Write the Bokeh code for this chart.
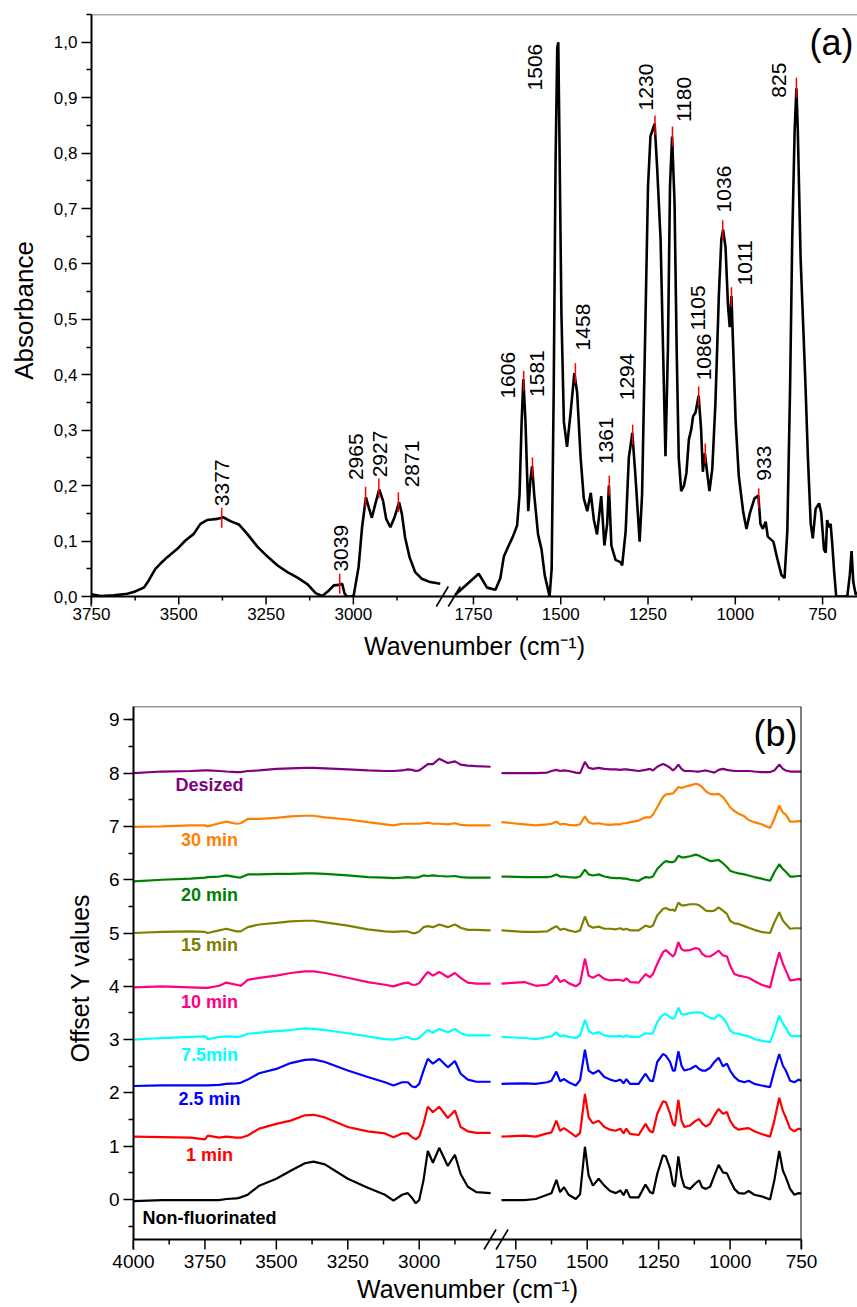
import numpy as np
from bokeh.plotting import figure
from bokeh.models import (Range1d, FixedTicker, CustomJSTickFormatter, Label, Span,
                          ColumnDataSource, BoxAnnotation)
from bokeh.embed import file_html
from bokeh.resources import INLINE
from bokeh.core.properties import value

FONT = "Liberation Sans"

# ---------------- Panel (a) data: (wavenumber, absorbance) ----------------
a_left = [(3750, 0.004), (3724, 0.001), (3686, 0.002), (3648, 0.005), (3629, 0.008), (3600, 0.016),
          (3586, 0.029), (3567, 0.05), (3553, 0.059), (3533, 0.071), (3504, 0.086), (3481, 0.101),
          (3457, 0.113), (3438, 0.131), (3419, 0.138), (3390, 0.14), (3373, 0.143), (3352, 0.136),
          (3328, 0.13), (3304, 0.113), (3275, 0.09), (3246, 0.072), (3217, 0.056), (3189, 0.044),
          (3160, 0.034), (3131, 0.022), (3108, 0.006), (3089, 0.001), (3070, 0.011), (3056, 0.02),
          (3041, 0.021), (3032, 0.023), (3025, 0.005), (3018, 0.0), (3004, 0.0), (2999, 0.002),
          (2985, 0.053), (2975, 0.125), (2964, 0.179), (2956, 0.161), (2947, 0.142), (2937, 0.167),
          (2926, 0.193), (2915, 0.173), (2906, 0.14), (2894, 0.125), (2882, 0.143), (2869, 0.17),
          (2861, 0.149), (2852, 0.107), (2839, 0.071), (2823, 0.044), (2804, 0.032), (2780, 0.026),
          (2751, 0.023)]
a_right = [(1802, 0.003), (1735, 0.041), (1711, 0.016), (1687, 0.012), (1673, 0.033), (1663, 0.072),
           (1649, 0.092), (1637, 0.108), (1625, 0.128), (1618, 0.184), (1612, 0.315), (1607, 0.392),
           (1601, 0.315), (1593, 0.154), (1587, 0.21), (1582, 0.235), (1576, 0.184), (1565, 0.112),
           (1555, 0.085), (1546, 0.039), (1532, 0.0), (1526, 0.05), (1520, 0.38), (1515, 0.775),
           (1510, 0.99), (1507, 1.0), (1504, 0.84), (1498, 0.51), (1491, 0.315), (1482, 0.27),
           (1472, 0.33), (1461, 0.403), (1453, 0.368), (1443, 0.25), (1434, 0.177), (1424, 0.154),
           (1414, 0.187), (1405, 0.138), (1396, 0.112), (1384, 0.181), (1375, 0.092), (1367, 0.131),
           (1362, 0.2), (1355, 0.092), (1343, 0.066), (1329, 0.062), (1324, 0.056), (1314, 0.118),
           (1305, 0.25), (1295, 0.295), (1286, 0.217), (1274, 0.099), (1267, 0.184), (1257, 0.51),
           (1250, 0.74), (1243, 0.83), (1231, 0.853), (1224, 0.775), (1214, 0.644), (1207, 0.447),
           (1200, 0.253), (1193, 0.447), (1187, 0.742), (1181, 0.83), (1174, 0.71), (1168, 0.447),
           (1162, 0.25), (1155, 0.19), (1147, 0.2), (1140, 0.223), (1133, 0.283), (1126, 0.302),
           (1121, 0.325), (1114, 0.332), (1105, 0.362), (1098, 0.302), (1093, 0.225), (1087, 0.258),
           (1080, 0.22), (1074, 0.19), (1066, 0.23), (1057, 0.348), (1047, 0.545), (1040, 0.644),
           (1035, 0.662), (1028, 0.63), (1021, 0.526), (1016, 0.486), (1011, 0.542), (1006, 0.447),
           (999, 0.315), (990, 0.217), (977, 0.151), (968, 0.122), (958, 0.151), (945, 0.177),
           (934, 0.182), (928, 0.131), (921, 0.122), (913, 0.135), (907, 0.108), (891, 0.099),
           (880, 0.069), (868, 0.039), (859, 0.033), (851, 0.118), (843, 0.381), (837, 0.644),
           (830, 0.841), (825, 0.917), (821, 0.841), (813, 0.611), (805, 0.48), (799, 0.381),
           (792, 0.25), (784, 0.131), (778, 0.105), (770, 0.158), (760, 0.168), (754, 0.151),
           (746, 0.085), (741, 0.079), (737, 0.138), (732, 0.125), (727, 0.131), (722, 0.092),
           (717, 0.046), (711, 0.0), (693, 0.0), (679, 0.001), (672, 0.039), (667, 0.082),
           (662, 0.026), (655, 0.003), (650, 0.007)]

peak_wn = [3377, 3039, 2965, 2927, 2871, 1606, 1581, 1458, 1361, 1294, 1230, 1180, 1105, 1086,
           1036, 1011, 933, 825]
peak_abs = [0.142, 0.023, 0.18, 0.195, 0.17, 0.389, 0.233, 0.403, 0.2, 0.292, 0.85, 0.83, 0.361,
            0.258, 0.661, 0.54, 0.177, 0.918]

plabel_text = ["3377", "3039", "2965", "2927", "2871", "1606", "1581", "1506", "1458", "1361",
               "1294", "1230", "1180", "1105", "1086", "1036", "1011", "933", "825"]
plabel_wn = [3375, 3034, 2992, 2924, 2833, 1651, 1567, 1575, 1435, 1369, 1309, 1257, 1148, 1106,
             1089, 1031, 973, 919, 874]
plabel_abs = [0.163, 0.045, 0.21, 0.215, 0.197, 0.357, 0.36, 0.913, 0.444, 0.239, 0.354, 0.877,
              0.856, 0.48, 0.39, 0.693, 0.561, 0.209, 0.9]

a_major = [3750, 3500, 3250, 3000, 1750, 1500, 1250, 1000, 750]
a_minor = [3625, 3375, 3125, 2875, 1625, 1375, 1125, 875]
a_yticks = [0.0, 0.1, 0.2, 0.3, 0.4, 0.5, 0.6, 0.7, 0.8, 0.9, 1.0]
a_yminor = [0.05, 0.15, 0.25, 0.35, 0.45, 0.55, 0.65, 0.75, 0.85, 0.95, 1.05]

# ---------------- Panel (b) data ----------------
b_left_wn = [4000, 3900, 3800, 3750, 3740, 3700, 3675, 3640, 3625, 3600, 3560, 3500, 3450, 3400,
             3370, 3330, 3250, 3180, 3120, 3090, 3060, 3040, 3025, 3012, 3000, 2985, 2970, 2952,
             2930, 2900, 2875, 2855, 2830, 2800, 2750]
b_right_wn = [1800, 1720, 1680, 1640, 1625, 1608, 1595, 1581, 1565, 1540, 1525, 1508, 1495, 1480,
              1460, 1440, 1420, 1400, 1384, 1373, 1363, 1350, 1320, 1296, 1280, 1270, 1255, 1235,
              1225, 1210, 1200, 1193, 1181, 1170, 1160, 1140, 1120, 1108, 1098, 1085, 1070, 1055,
              1040, 1025, 1011, 1000, 985, 970, 950, 935, 915, 890, 860, 845, 828, 815, 805, 790,
              775, 760, 750]

nonfluor_left = [-0.03, -0.01, -0.01, -0.01, -0.01, -0.01, 0.01, 0.02, 0.04, 0.09, 0.26, 0.39, 0.54,
                 0.68, 0.71, 0.66, 0.39, 0.22, 0.09, -0.02, 0.09, 0.12, 0.03, -0.07, -0.01, 0.36,
                 0.91, 0.69, 0.97, 0.63, 0.84, 0.48, 0.24, 0.14, 0.12]
nonfluor_right = [-0.01, -0.01, 0.01, 0.09, 0.12, 0.37, 0.14, 0.23, 0.09, 0.01, 0.10, 0.99, 0.45,
                  0.26, 0.39, 0.26, 0.16, 0.12, 0.17, 0.08, 0.19, 0.04, 0.04, 0.28, 0.14, 0.11, 0.48,
                  0.83, 0.81, 0.58, 0.29, 0.24, 0.81, 0.42, 0.24, 0.20, 0.31, 0.36, 0.23, 0.20, 0.24,
                  0.45, 0.65, 0.51, 0.49, 0.36, 0.20, 0.12, 0.11, 0.16, 0.09, 0.06, 0.00, 0.36, 0.91,
                  0.54, 0.42, 0.20, 0.09, 0.12, 0.11]
min1_left = [1.18, 1.17, 1.16, 1.13, 1.20, 1.16, 1.18, 1.16, 1.16, 1.20, 1.33, 1.42, 1.48, 1.58,
             1.59, 1.54, 1.36, 1.28, 1.24, 1.17, 1.24, 1.24, 1.17, 1.13, 1.18, 1.42, 1.74, 1.64,
             1.74, 1.53, 1.67, 1.36, 1.28, 1.25, 1.25]
min1_right = [1.18, 1.20, 1.18, 1.24, 1.26, 1.48, 1.29, 1.34, 1.28, 1.18, 1.25, 1.98, 1.54, 1.43,
              1.48, 1.36, 1.31, 1.29, 1.33, 1.24, 1.33, 1.23, 1.21, 1.42, 1.28, 1.26, 1.61, 1.84,
              1.83, 1.61, 1.42, 1.38, 1.87, 1.48, 1.36, 1.39, 1.48, 1.51, 1.43, 1.37, 1.42, 1.58,
              1.70, 1.61, 1.64, 1.48, 1.36, 1.31, 1.33, 1.34, 1.28, 1.23, 1.18, 1.48, 1.91, 1.66,
              1.54, 1.33, 1.28, 1.33, 1.31]
min25_left = [2.13, 2.14, 2.14, 2.14, 2.14, 2.15, 2.17, 2.18, 2.19, 2.25, 2.37, 2.45, 2.56, 2.62,
              2.63, 2.58, 2.42, 2.30, 2.20, 2.14, 2.20, 2.20, 2.12, 2.11, 2.17, 2.42, 2.64, 2.55,
              2.64, 2.48, 2.60, 2.36, 2.25, 2.21, 2.21]
min25_right = [2.17, 2.18, 2.17, 2.20, 2.23, 2.40, 2.22, 2.26, 2.20, 2.14, 2.24, 2.81, 2.42, 2.36,
               2.42, 2.30, 2.25, 2.22, 2.25, 2.18, 2.26, 2.17, 2.17, 2.36, 2.23, 2.22, 2.58, 2.73,
               2.70, 2.58, 2.42, 2.42, 2.78, 2.51, 2.42, 2.45, 2.51, 2.45, 2.42, 2.42, 2.47, 2.58,
               2.66, 2.50, 2.55, 2.42, 2.30, 2.23, 2.20, 2.23, 2.17, 2.14, 2.11, 2.42, 2.73, 2.51,
               2.42, 2.23, 2.20, 2.25, 2.23]
min75_left = [3.00, 3.03, 3.05, 3.06, 3.01, 3.05, 3.06, 3.05, 3.06, 3.11, 3.13, 3.16, 3.18, 3.21,
              3.20, 3.18, 3.12, 3.06, 3.01, 3.00, 3.03, 3.05, 3.01, 3.01, 3.03, 3.11, 3.18, 3.13,
              3.20, 3.14, 3.20, 3.12, 3.08, 3.08, 3.08]
min75_right = [3.05, 3.03, 3.01, 3.05, 3.06, 3.14, 3.06, 3.08, 3.05, 3.03, 3.08, 3.37, 3.17, 3.11,
               3.14, 3.08, 3.06, 3.06, 3.07, 3.05, 3.08, 3.05, 3.05, 3.12, 3.11, 3.12, 3.33, 3.47,
               3.48, 3.42, 3.39, 3.42, 3.60, 3.48, 3.47, 3.50, 3.51, 3.51, 3.50, 3.45, 3.41, 3.39,
               3.47, 3.41, 3.30, 3.17, 3.12, 3.11, 3.08, 3.06, 3.01, 2.98, 2.95, 3.17, 3.45, 3.30,
               3.22, 3.08, 3.06, 3.07, 3.07]
min10_left = [3.98, 4.00, 3.98, 3.97, 3.97, 4.01, 4.07, 4.03, 4.01, 4.12, 4.16, 4.20, 4.25, 4.28,
              4.28, 4.25, 4.16, 4.08, 4.03, 4.00, 4.05, 4.07, 4.03, 4.03, 4.06, 4.17, 4.27, 4.20,
              4.27, 4.17, 4.25, 4.16, 4.07, 4.05, 4.05]
min10_right = [4.05, 4.08, 4.01, 4.03, 4.08, 4.20, 4.08, 4.12, 4.06, 4.00, 4.06, 4.52, 4.20, 4.16,
               4.22, 4.14, 4.11, 4.12, 4.12, 4.10, 4.15, 4.08, 4.07, 4.23, 4.17, 4.23, 4.42, 4.64,
               4.68, 4.61, 4.56, 4.61, 4.83, 4.70, 4.67, 4.68, 4.72, 4.70, 4.61, 4.56, 4.56, 4.61,
               4.67, 4.58, 4.56, 4.39, 4.23, 4.20, 4.18, 4.16, 4.10, 4.03, 3.98, 4.30, 4.64, 4.42,
               4.30, 4.11, 4.12, 4.14, 4.12]
min15_left = [5.00, 5.02, 5.03, 5.02, 5.00, 5.05, 5.08, 5.03, 5.03, 5.11, 5.16, 5.19, 5.22, 5.23,
              5.23, 5.20, 5.14, 5.07, 5.03, 5.02, 5.03, 5.03, 5.00, 5.00, 5.03, 5.11, 5.13, 5.11,
              5.16, 5.11, 5.16, 5.10, 5.06, 5.06, 5.05]
min15_right = [5.05, 5.02, 5.02, 5.03, 5.08, 5.13, 5.06, 5.08, 5.05, 5.02, 5.05, 5.31, 5.14, 5.10,
               5.12, 5.08, 5.08, 5.07, 5.09, 5.06, 5.08, 5.05, 5.05, 5.14, 5.11, 5.14, 5.33, 5.45,
               5.47, 5.43, 5.44, 5.41, 5.57, 5.52, 5.52, 5.54, 5.54, 5.52, 5.48, 5.42, 5.41, 5.42,
               5.48, 5.42, 5.36, 5.23, 5.18, 5.17, 5.13, 5.10, 5.06, 5.02, 5.00, 5.20, 5.39, 5.23,
               5.17, 5.08, 5.09, 5.09, 5.09]
min20_left = [5.97, 6.00, 6.02, 6.04, 6.05, 6.06, 6.08, 6.05, 6.04, 6.10, 6.10, 6.11, 6.11, 6.12,
              6.12, 6.11, 6.08, 6.05, 6.04, 6.03, 6.04, 6.05, 6.04, 6.04, 6.05, 6.08, 6.07, 6.08,
              6.07, 6.06, 6.07, 6.05, 6.04, 6.04, 6.04]
min20_right = [6.06, 6.05, 6.05, 6.05, 6.06, 6.10, 6.06, 6.06, 6.05, 6.04, 6.06, 6.19, 6.10, 6.08,
               6.10, 6.06, 6.04, 6.03, 6.03, 6.02, 6.02, 6.00, 5.98, 6.05, 6.04, 6.06, 6.20, 6.31,
               6.35, 6.33, 6.33, 6.35, 6.45, 6.42, 6.42, 6.44, 6.47, 6.45, 6.42, 6.39, 6.35, 6.36,
               6.37, 6.31, 6.24, 6.17, 6.14, 6.12, 6.10, 6.08, 6.05, 6.02, 5.98, 6.14, 6.29, 6.20,
               6.15, 6.06, 6.06, 6.07, 6.07]
min30_left = [6.99, 7.00, 7.02, 7.02, 7.00, 7.06, 7.09, 7.05, 7.06, 7.14, 7.14, 7.16, 7.19, 7.20,
              7.20, 7.17, 7.13, 7.08, 7.04, 7.02, 7.05, 7.05, 7.05, 7.05, 7.05, 7.06, 7.07, 7.05,
              7.05, 7.04, 7.06, 7.03, 7.02, 7.02, 7.02]
min30_right = [7.08, 7.04, 7.02, 7.04, 7.05, 7.09, 7.04, 7.05, 7.03, 7.02, 7.04, 7.19, 7.08, 7.05,
               7.06, 7.04, 7.03, 7.04, 7.04, 7.06, 7.06, 7.08, 7.11, 7.17, 7.17, 7.22, 7.36, 7.55,
               7.60, 7.61, 7.62, 7.66, 7.74, 7.72, 7.74, 7.77, 7.80, 7.78, 7.74, 7.66, 7.61, 7.60,
               7.61, 7.55, 7.45, 7.36, 7.29, 7.24, 7.19, 7.12, 7.08, 7.04, 6.97, 7.14, 7.39, 7.26,
               7.22, 7.09, 7.09, 7.10, 7.10]
desized_left = [8.00, 8.03, 8.04, 8.05, 8.05, 8.04, 8.03, 8.02, 8.02, 8.04, 8.05, 8.08, 8.09, 8.10,
                8.10, 8.09, 8.07, 8.05, 8.04, 8.04, 8.05, 8.07, 8.06, 8.04, 8.05, 8.11, 8.17, 8.17,
                8.27, 8.19, 8.22, 8.16, 8.14, 8.13, 8.12]
desized_right = [8.00, 8.00, 8.00, 8.01, 8.04, 8.06, 8.04, 8.05, 8.04, 8.01, 8.00, 8.21, 8.10, 8.08,
                 8.10, 8.08, 8.07, 8.07, 8.06, 8.07, 8.07, 8.06, 8.04, 8.06, 8.08, 8.05, 8.12, 8.17,
                 8.15, 8.10, 8.05, 8.08, 8.16, 8.08, 8.04, 8.04, 8.03, 8.03, 8.04, 8.05, 8.03, 8.01,
                 8.06, 8.08, 8.06, 8.05, 8.04, 8.04, 8.04, 8.04, 8.03, 8.02, 8.02, 8.05, 8.16, 8.08,
                 8.05, 8.03, 8.03, 8.03, 8.03]

b_names = ["Non-fluorinated", "1 min", "2.5 min", "7.5min", "10 min", "15 min", "20 min", "30 min", "Desized"]
b_colors = ["#000000", "#FF0000", "#0000FF", "#00FFFF", "#FF0080", "#808000", "#008000", "#FF8000", "#800080"]
b_left_series = [nonfluor_left, min1_left, min25_left, min75_left, min10_left, min15_left,
                 min20_left, min30_left, desized_left]
b_right_series = [nonfluor_right, min1_right, min25_right, min75_right, min10_right, min15_right,
                  min20_right, min30_right, desized_right]
b_label_wn = 3734
b_label_y = [-0.34, 0.83, 1.88, 2.72, 3.71, 4.78, 5.72, 6.75, 7.77]

b_major = [4000, 3750, 3500, 3250, 3000, 1750, 1500, 1250, 1000, 750]
b_minor = [3875, 3625, 3375, 3125, 2875, 1625, 1375, 1125, 875]
b_yticks = [0, 1, 2, 3, 4, 5, 6, 7, 8, 9]
b_yminor = [-0.5, 0.5, 1.5, 2.5, 3.5, 4.5, 5.5, 6.5, 7.5, 8.5, 9.0]

# ---------------- broken-axis mapping ----------------
A_LS, A_LE, A_GAP, A_RS, A_RE = 3750, 2750, 44, 1800, 650
B_LS, B_LE, B_GAP, B_RS, B_RE = 4000, 2750, 38, 1800, 750


def make_map(ls, le, gap, rs):
    ru0 = (ls - le) + gap
    mid = (le + rs) / 2.0

    def f(w):
        w = np.asarray(w, dtype=float)
        return np.where(w > mid, ls - w, ru0 + (rs - w))
    return f, ru0


ua, A_RU0 = make_map(A_LS, A_LE, A_GAP, A_RS)
ub, B_RU0 = make_map(B_LS, B_LE, B_GAP, B_RS)

# layout geometry (pixels)
A_W, A_H, A_L, A_R, A_T, A_B = 857, 666, 91, 0, 14, 60
B_W, B_H, B_L, B_R, B_T, B_B = 857, 641, 133, 56, 40, 58
PAD = 10          # frame extends this many px below the drawn x-axis line
A_YTOP = 1.05
B_Y0, B_YTOP = -0.75, 9.25
A_FH = A_H - A_T - A_B
B_FH = B_H - B_T - B_B
A_YPP = A_YTOP / (A_FH - PAD)                 # data units per px (a)
B_YPP = (B_YTOP - B_Y0) / (B_FH - PAD)        # data units per px (b)
A_XEND = float(ua(A_RE))
B_XEND = float(ub(B_RE))
A_XPP = A_XEND / (A_W - A_L - A_R)
B_XPP = B_XEND / (B_W - B_L - B_R)


def x_formatter(ls, le, gap, rs, ru0):
    return CustomJSTickFormatter(
        args=dict(ls=ls, le=le, gap=gap, rs=rs, ru0=ru0),
        code="""
        const brk = (ls - le) + gap / 2;
        const w = tick < brk ? (ls - tick) : (rs - (tick - ru0));
        return Math.round(w).toString();
        """)


def style_axis(ax, tick_out, minor_out, label_size, title_size, lab_standoff, title_standoff):
    ax.axis_line_width = 2
    ax.axis_line_color = "black"
    ax.major_tick_line_width = 1.5
    ax.minor_tick_line_width = 1.5
    ax.major_tick_line_color = "black"
    ax.minor_tick_line_color = "black"
    ax.major_tick_in = 0
    ax.minor_tick_in = 0
    ax.major_tick_out = tick_out
    ax.minor_tick_out = minor_out
    ax.major_label_text_font = FONT
    ax.major_label_text_font_size = label_size
    ax.major_label_text_color = "black"
    ax.major_label_standoff = lab_standoff
    ax.axis_label_text_font = FONT
    ax.axis_label_text_font_size = title_size
    ax.axis_label_text_font_style = "normal"
    ax.axis_label_text_color = "black"
    ax.axis_label_standoff = title_standoff


def hide_line_and_ticks(ax):
    ax.axis_line_color = None
    ax.major_tick_line_color = None
    ax.minor_tick_line_color = None
    ax.major_tick_out = 0
    ax.minor_tick_out = 0


def draw_x_axis(p, y0, ypp, xpp, majors_u, minors_u, major_len, minor_len, brk_center):
    # white cover below the axis line, axis line, tick marks and the '//' break symbol
    p.add_layout(BoxAnnotation(top=y0, fill_color="white", fill_alpha=1.0, line_color=None,
                               line_alpha=0))
    p.add_layout(Span(location=y0, dimension="width", line_color="black", line_width=2))
    p.segment(x0=majors_u, y0=y0, x1=majors_u, y1=y0 - major_len * ypp,
              line_color="black", line_width=1.5, level="overlay")
    p.segment(x0=minors_u, y0=y0, x1=minors_u, y1=y0 - minor_len * ypp,
              line_color="black", line_width=1.5, level="overlay")
    cs = np.array([brk_center - 6 * xpp, brk_center + 6 * xpp])
    p.segment(x0=cs - 6 * xpp, y0=y0 - 10 * ypp, x1=cs + 6 * xpp, y1=y0 + 10 * ypp,
              line_color="black", line_width=1.6, level="overlay")


# ================= Panel (a) =================
pa = figure(width=A_W, height=A_H, output_backend="svg", toolbar_location=None,
            x_range=Range1d(0, A_XEND), y_range=Range1d(-PAD * A_YPP, A_YTOP),
            min_border_left=A_L, min_border_right=A_R, min_border_top=A_T, min_border_bottom=A_B)
pa.grid.visible = False
pa.outline_line_color = None
pa.background_fill_color = "white"

alw, ala = zip(*a_left)
arw, ara = zip(*a_right)
pa.line(ua(alw), ala, line_color="black", line_width=2.6)
pa.line(ua(arw), ara, line_color="black", line_width=2.6)

pk_u = ua(peak_wn)
pa.segment(x0=pk_u, y0=np.array(peak_abs) - 0.018, x1=pk_u, y1=np.array(peak_abs) + 0.018,
           line_color="red", line_width=1.5)

lab_src = ColumnDataSource(dict(x=ua(plabel_wn), y=plabel_abs, text=plabel_text))
pa.text(x="x", y="y", text="text", source=lab_src, angle=np.pi / 2, text_align="left",
        text_baseline="middle", text_font=value(FONT), text_font_size=value("21px"),
        text_color="black")

a_major_u = [float(v) for v in ua(a_major)]
a_minor_u = [float(v) for v in ua(a_minor)]
pa.xaxis.ticker = FixedTicker(ticks=a_major_u, minor_ticks=a_minor_u)
pa.xaxis.formatter = x_formatter(A_LS, A_LE, A_GAP, A_RS, A_RU0)
pa.yaxis.ticker = FixedTicker(ticks=a_yticks, minor_ticks=a_yminor)
pa.yaxis.formatter = CustomJSTickFormatter(code="return tick.toFixed(1).replace('.', ',');")
pa.xaxis.axis_label = "Wavenumber (cm\u207b\u00b9)"
pa.yaxis.axis_label = "Absorbance"
style_axis(pa.xaxis[0], 0, 0, "17px", "25px", 1, 9)
hide_line_and_ticks(pa.xaxis[0])
style_axis(pa.yaxis[0], 10, 5, "17px", "26px", 4, 12)

draw_x_axis(pa, 0.0, A_YPP, A_XPP, a_major_u, a_minor_u, 8, 4,
            (A_LS - A_LE) + A_GAP / 2.0)

pa.add_layout(Span(location=A_YTOP, dimension="width", line_color="#555555", line_width=1.5))

pa.add_layout(Label(x=A_XEND, y=1.0, x_offset=-4, text="(a)", text_align="right",
                    text_baseline="middle", text_font=FONT, text_font_size="36px",
                    text_color="black"))

# ================= Panel (b) =================
pb = figure(width=B_W, height=B_H, output_backend="svg", toolbar_location=None,
            x_range=Range1d(0, B_XEND), y_range=Range1d(B_Y0 - PAD * B_YPP, B_YTOP),
            min_border_left=B_L, min_border_right=B_R, min_border_top=B_T, min_border_bottom=B_B)
pb.grid.visible = False
pb.outline_line_color = None

for name, col, ls_, rs_ in zip(b_names, b_colors, b_left_series, b_right_series):
    pb.line(ub(b_left_wn), ls_, line_color=col, line_width=2.2)
    pb.line(ub(b_right_wn), rs_, line_color=col, line_width=2.2)

nm_src = ColumnDataSource(dict(x=[float(ub(b_label_wn))] * len(b_names), y=b_label_y,
                               text=b_names, color=b_colors))
pb.text(x="x", y="y", text="text", text_color="color", source=nm_src, text_align="center",
        text_baseline="middle", text_font=value(FONT), text_font_size=value("18px"),
        text_font_style="bold")

b_major_u = [float(v) for v in ub(b_major)]
b_minor_u = [float(v) for v in ub(b_minor)]
pb.xaxis.ticker = FixedTicker(ticks=b_major_u, minor_ticks=b_minor_u)
pb.xaxis.formatter = x_formatter(B_LS, B_LE, B_GAP, B_RS, B_RU0)
pb.yaxis.ticker = FixedTicker(ticks=b_yticks, minor_ticks=b_yminor)
pb.xaxis.axis_label = "Wavenumber (cm\u207b\u00b9)"
pb.yaxis.axis_label = "Offset Y values"
style_axis(pb.xaxis[0], 0, 0, "19px", "25px", 5, 4)
hide_line_and_ticks(pb.xaxis[0])
style_axis(pb.yaxis[0], 10, 5, "19px", "25px", 4, 12)

draw_x_axis(pb, B_Y0, B_YPP, B_XPP, b_major_u, b_minor_u, 10, 5,
            (B_LS - B_LE) + B_GAP / 2.0)

# frame: top and right borders
pb.add_layout(Span(location=B_YTOP, dimension="width", line_color="#333333", line_width=1.5))
pb.add_layout(Span(location=B_XEND, dimension="height", line_color="black", line_width=2))

pb.add_layout(Label(x=B_XEND, y=8.74, x_offset=-4, text="(b)", text_align="right",
                    text_baseline="middle", text_font=FONT, text_font_size="36px",
                    text_color="black"))

open("out.html", "w").write(file_html([pa, pb], INLINE))
